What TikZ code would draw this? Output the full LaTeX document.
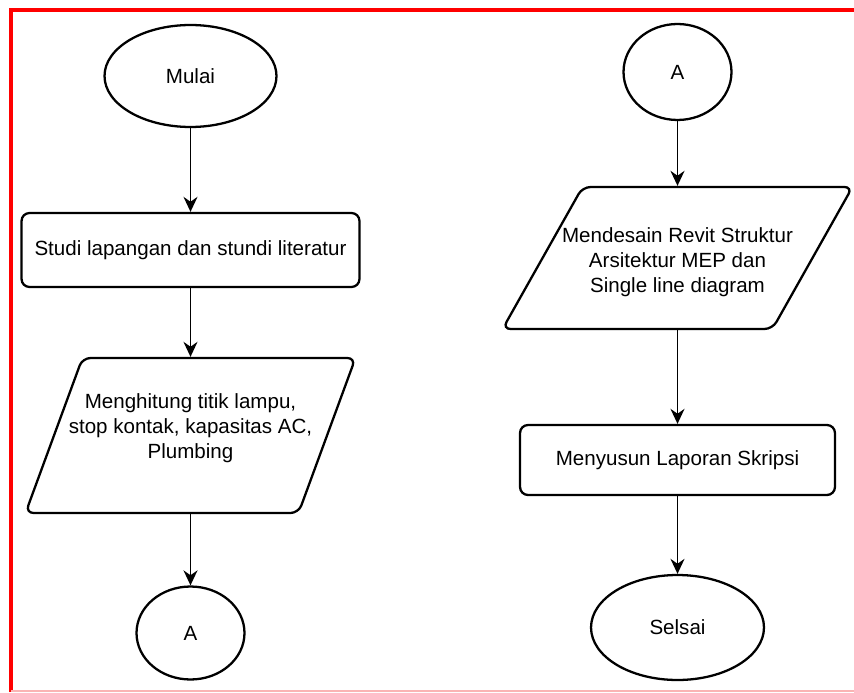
\documentclass[tikz,border=0pt]{standalone}
\usepackage{fontspec}
\setmainfont{Liberation Sans}
\usetikzlibrary{arrows.meta,positioning,shapes.geometric}
\definecolor{frameRed}{RGB}{255,0,0}
\definecolor{framePink}{RGB}{250,180,180}

\begin{document}
\begin{tikzpicture}[x=0.02cm, y=-0.02cm,
  every node/.style={font=\fontsize{11.7}{14.3}\selectfont, align=center},
  terminal/.style={draw, ellipse, line width=1.3pt, inner sep=0pt},
  process/.style={draw, rounded corners=0.16cm, line width=1.3pt},
  io/.style={draw, trapezium, trapezium stretches body=true, rounded corners=0.16cm, line width=1.3pt,
    inner xsep=0pt, inner ysep=0.5cm},
  flow/.style={-{Stealth[length=0.3cm,width=0.28cm]}, line width=1pt}]
\useasboundingbox (0,0) rectangle (854,692);
% frame
\draw[frameRed, line width=2pt] (11,692) -- (11,10) -- (854,10);
\draw[framePink, line width=0.6pt] (11,691) -- (854,691);
% left column
\node[terminal, minimum width=3.44cm, minimum height=2.04cm] (mulai) at (190.5,76) {Mulai};
\node[process, minimum width=6.76cm, minimum height=1.48cm] (studi) at (190.5,250) {Studi lapangan dan stundi literatur};
\node[io, trapezium left angle=41.3, trapezium right angle=138.7, minimum width=6.6cm, minimum height=3.1cm,
  label={[yshift=0.15cm]center:Menghitung titik lampu,\\stop kontak, kapasitas AC,\\Plumbing}] (hitung) at (190.5,435.5) {};
\node[terminal, minimum width=2.16cm, minimum height=1.86cm] (konA) at (190.5,633) {A};
% right column
\node[terminal, minimum width=2.16cm, minimum height=1.92cm] (konB) at (677.5,72) {A};
\node[io, trapezium left angle=32, trapezium right angle=148, minimum width=7cm, minimum height=2.84cm,
  label={[yshift=-0.08cm]center:Mendesain Revit Struktur\\Arsitektur MEP dan\\Single line diagram}] (desain) at (677.5,258) {};
\node[process, minimum width=6.3cm, minimum height=1.4cm] (susun) at (677.5,460) {Menyusun Laporan Skripsi};
\node[terminal, minimum width=3.46cm, minimum height=2.1cm] (selsai) at (677.5,627.5) {Selsai};
% arrows
\draw[flow] (mulai) -- (studi);
\draw[flow] (studi) -- (hitung);
\draw[flow] (hitung) -- (konA);
\draw[flow] (konB) -- (desain);
\draw[flow] (desain) -- (susun);
\draw[flow] (susun) -- (selsai);
\end{tikzpicture}
\end{document}
